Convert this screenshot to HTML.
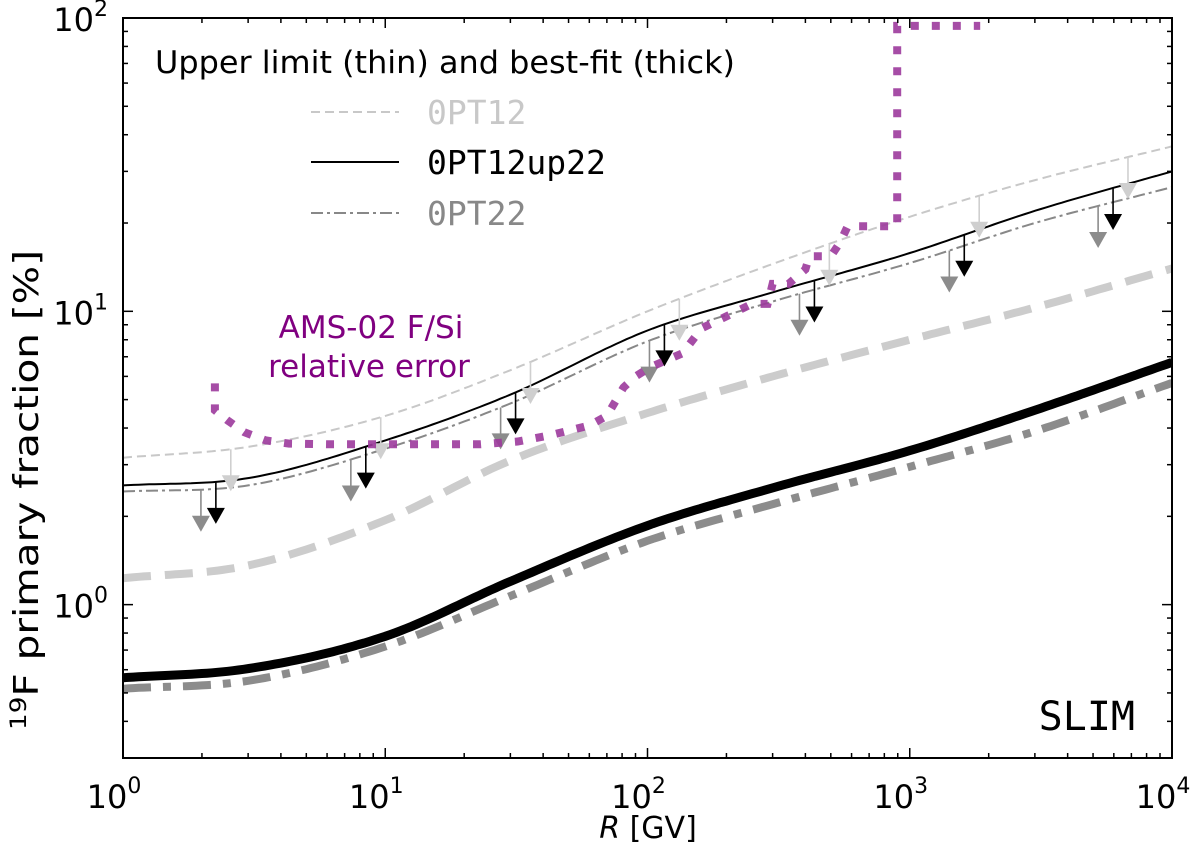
<!DOCTYPE html>
<html><head><meta charset="utf-8">
<style>
html,body{margin:0;padding:0;background:#fff;}
svg{display:block;}
text{font-family:"DejaVu Sans","Liberation Sans",sans-serif;}
.mono{font-family:"DejaVu Sans Mono","Liberation Mono",monospace;}
</style></head>
<body>
<svg id="chart" width="1200" height="843" viewBox="0 0 1200 843" xmlns="http://www.w3.org/2000/svg">
<rect x="0" y="0" width="1200" height="843" fill="#fff"/>
<g id="plot"></g>
<g id="axes"></g>
</svg>
<script>
// ---- data ----
const xGrid = [1, 3, 10, 30, 100, 300, 1000, 3000, 10000];
const opt12Upper     = [3.17, 3.45, 4.4, 6.3, 10.0, 14.5, 21.0, 28.0, 36.5];
const opt12up22Upper = [2.55, 2.7, 3.63, 5.2, 8.6, 11.6, 15.8, 22.0, 30.0];
const opt22Upper     = [2.43, 2.55, 3.4, 4.85, 7.9, 10.8, 14.6, 20.0, 26.5];
const opt12Best      = [1.23, 1.36, 1.94, 3.1, 4.5, 6.0, 8.0, 10.3, 14.0];
const opt12up22Best  = [0.563, 0.605, 0.78, 1.2, 1.86, 2.5, 3.35, 4.6, 6.7];
const opt22Best      = [0.517, 0.55, 0.72, 1.07, 1.65, 2.2, 2.95, 3.9, 5.7];
const amsX = [2.24,2.24,2.5,2.9,3.5,4.3,6,11,23,32,42,60,70,81,90,102,136,161,211,250,287,300,345,400,414,500,543,580,896,896,1856];
const amsY = [5.68,4.6,4.25,3.87,3.63,3.54,3.52,3.52,3.52,3.6,3.77,4.08,4.4,5.5,6.0,6.44,7.19,8.75,9.84,10.6,10.6,12.4,12.4,13.9,15.4,15.4,17.2,19.5,19.5,94,94];
const arrowX = [2.26, 8.43, 31.4, 116, 433, 1614, 5960];
const xTickLabels = ["0","1","2","3","4"];
const yTickLabels = ["0","1","2"];

// ---- axes functions ----
const L=123, R=1172, T=18, B=758;
const xmin=0, xmax=4, ymin=Math.log10(0.3), ymax=2;
const sx = v => L + (Math.log10(v)-xmin)/(xmax-xmin)*(R-L);
const sy = v => B - (Math.log10(v)-ymin)/(ymax-ymin)*(B-T);
const NS="http://www.w3.org/2000/svg";
const plot=document.getElementById('plot'), axes=document.getElementById('axes');
function mk(tag, attrs, parent){const e=document.createElementNS(NS,tag);for(const k in attrs)e.setAttribute(k,attrs[k]);parent.appendChild(e);return e;}

function cval(xs, ys, x){
  const lx=Math.log10(x), X=xs.map(Math.log10), Y=ys.map(Math.log10), n=X.length;
  let i=0; while(i<n-2 && lx>X[i+1]) i++;
  const m=k=>{ if(k===0) return (Y[1]-Y[0])/(X[1]-X[0]); if(k===n-1) return (Y[n-1]-Y[n-2])/(X[n-1]-X[n-2]);
    return ((Y[k+1]-Y[k])/(X[k+1]-X[k])+(Y[k]-Y[k-1])/(X[k]-X[k-1]))/2; };
  const h=X[i+1]-X[i], t=Math.max(0,Math.min(1,(lx-X[i])/h));
  const h00=2*t*t*t-3*t*t+1,h10=t*t*t-2*t*t+t,h01=-2*t*t*t+3*t*t,h11=t*t*t-t*t;
  return Math.pow(10, h00*Y[i]+h10*h*m(i)+h01*Y[i+1]+h11*h*m(i+1));
}
function curvePath(ys){
  let d='';
  for(let k=0;k<=200;k++){const x=Math.pow(10,xmin+(xmax-xmin)*k/200);
    d+=(k?' L':'M')+sx(x).toFixed(1)+','+sy(cval(xGrid,ys,x)).toFixed(1);}
  return d;
}
const clip=mk('clipPath',{id:'clipP'},mk('defs',{},plot));
mk('rect',{x:L,y:T,width:R-L,height:B-T},clip);
const g=mk('g',{'clip-path':'url(#clipP)'},plot);



function line(ys, color, w, dash, name){
  const e=mk('path',{d:curvePath(ys),fill:'none',stroke:color,'stroke-width':w,'stroke-dasharray':dash||'none'},g);
  
  
}
line(opt12Best,'#cccccc',8,'28 14','opt12-best-fit-line');
line(opt22Best,'#8c8c8c',8,'28 12 8 12','opt22-best-fit-line');
line(opt12up22Best,'#000',9,null,'opt12up22-best-fit-line');
line(opt12Upper,'#c8c8c8',2,'9 5','opt12-upper-limit-line');
line(opt22Upper,'#888',2,'12 4 3 4','opt22-upper-limit-line');
line(opt12up22Upper,'#000',2,null,'opt12up22-upper-limit-line');

function arrow(x, ys, color, name){
  const v=cval(xGrid, ys, x), px=sx(x), y0=sy(v), y1=y0+42;
  const s=mk('line',{x1:px,y1:y0,x2:px,y2:y1-14,stroke:color,'stroke-width':1.6},g);
  
  
  const h=mk('polygon',{points:`${px-9},${y1-16} ${px+9},${y1-16} ${px},${y1}`,fill:color},g);
  
  
}
arrowX.forEach((x,i)=>{
  arrow(x*1.14, opt12Upper,'#cfcfcf','opt12-upper-arrow');
  arrow(x*0.877, opt22Upper,'#8c8c8c','opt22-upper-arrow');
  arrow(x, opt12up22Upper,'#000','opt12up22-upper-arrow');
});

let ad='';amsX.forEach((x,i)=>{ad+=(i?' L':'M')+sx(x).toFixed(1)+','+sy(amsY[i]).toFixed(1);});
const am=mk('path',{d:ad,fill:'none',stroke:'#9c3a9c','stroke-opacity':0.9,'stroke-width':8,'stroke-dasharray':'8 13'},g);



const fr=mk('rect',{x:L,y:T,width:R-L,height:B-T,fill:'none',stroke:'#000','stroke-width':2},axes);


for(let d=0;d<4;d++){for(let m=1;m<10;m++){
  const px=sx(Math.pow(10,d)*m), len=m===1?10:5;
  mk('line',{x1:px,y1:B,x2:px,y2:B-len,stroke:'#000','stroke-width':1.5},axes);
  mk('line',{x1:px,y1:T,x2:px,y2:T+len,stroke:'#000','stroke-width':1.5},axes);
}}
for(let d=-1;d<2;d++){for(let m=1;m<10;m++){
  const v=Math.pow(10,d)*m; if(v<0.3||v>100)continue;
  const py=sy(v), len=m===1?10:5;
  mk('line',{x1:L,y1:py,x2:L+len,y2:py,stroke:'#000','stroke-width':1.5},axes);
  mk('line',{x1:R,y1:py,x2:R-len,y2:py,stroke:'#000','stroke-width':1.5},axes);
}}
xTickLabels.forEach((e,i)=>{
  const t=mk('text',{x:sx(Math.pow(10,+e))-9,y:808,'font-size':32,'text-anchor':'middle'},axes);
  t.innerHTML=`10<tspan dy="-15" font-size="22">${e}</tspan>`;
  
  
});
yTickLabels.forEach((e,i)=>{
  const t=mk('text',{x:108,y:sy(Math.pow(10,+e))+13,'font-size':32,'text-anchor':'end'},axes);
  t.innerHTML=`10<tspan dy="-15" font-size="22">${e}</tspan>`;
  
  
});
</script>
<svg style="position:absolute;left:0;top:0" width="1200" height="843">
<text x="648" y="838" font-size="30" text-anchor="middle"><tspan font-style="italic">R</tspan> [GV]</text>
<text transform="translate(38,490) rotate(-90)" font-size="34" text-anchor="middle" textLength="480" lengthAdjust="spacingAndGlyphs"><tspan font-size="22" dy="-12">19</tspan><tspan dy="12">F primary fraction [%]</tspan></text>
<text x="155" y="73" font-size="31" textLength="580" lengthAdjust="spacingAndGlyphs">Upper limit (thin) and best-fit (thick)</text>
<line x1="311" y1="112" x2="399" y2="112" stroke="#c8c8c8" stroke-width="2" stroke-dasharray="9 5"/>
<text class="mono" x="427" y="124" font-size="33" fill="#c8c8c8">0PT12</text>
<line x1="311" y1="162" x2="399" y2="162" stroke="#000" stroke-width="2"/>
<text class="mono" x="427" y="174" font-size="33" fill="#000">0PT12up22</text>
<line x1="311" y1="213" x2="399" y2="213" stroke="#888" stroke-width="2" stroke-dasharray="12 4 3 4"/>
<text class="mono" x="427" y="225" font-size="33" fill="#888">0PT22</text>
<text x="371" y="338" font-size="31" fill="#800080" text-anchor="middle">AMS-02 F/Si</text>
<text x="369" y="377" font-size="31" fill="#800080" text-anchor="middle">relative error</text>
<text class="mono" x="1135" y="730" font-size="40" text-anchor="end">SLIM</text>
</svg>
</body></html>
